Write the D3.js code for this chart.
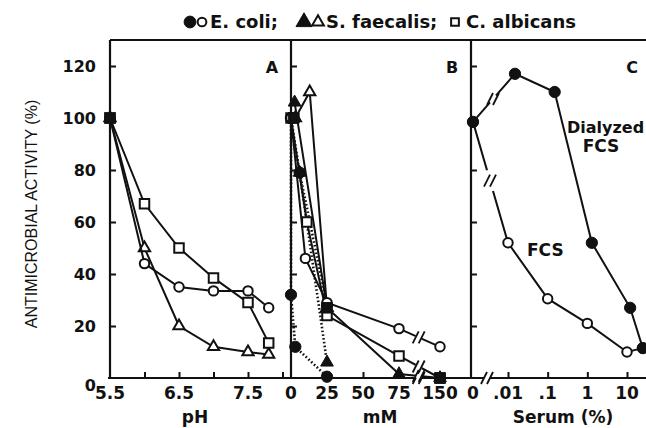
<!DOCTYPE html>
<html>
<head>
<meta charset="utf-8">
<script src="https://cdn.jsdelivr.net/npm/d3@7"></script>
<style>
  body { margin: 0; background: #fff; }
  svg { display: block; }
  text { font-family: "DejaVu Sans", sans-serif; font-weight: bold; fill: #111; }
</style>
</head>
<body>
<div id="wrapper"></div>
<script>
// ---- data ----
const yTicks = [0, 20, 40, 60, 80, 100, 120];

// panel A: pH
const phValues = [5.5, 6.0, 6.5, 7.0, 7.5, 7.8];
const phEcoli = [100, 44, 35, 33.5, 33.5, 27];
const phFaecalis = [100, 50, 20, 12, 10, 9];
const phAlbicans = [100, 67, 50, 38.5, 29, 13.5];
const phTickLabels = [5.5, 6.5, 7.5];
const phTickMarks = [6.0, 6.5, 7.0, 7.5, 8.0];

// panel B: mM
const mmTickLabels = [0, 25, 50, 75, 150];
const mmEcoliOpen = [0, 10, 25, 75, 150];
const actEcoliOpen = [100, 46, 29, 19, 12];
const mmAlbicans = [0, 11, 25, 75, 150];
const actAlbicans = [100, 60, 24, 8.5, 0];
const mmFaecalisOpen = [3, 13, 25];
const actFaecalisOpen = [100, 110, 27];
const mmFaecalisFilled = [2.5, 25, 75, 150];
const actFaecalisFilled = [106, 27, 1.5, 0];
const mmFaecalisDotted = [6, 25];
const actFaecalisDotted = [79, 6];
const mmEcoliDottedA = [0, 6, 25];
const actEcoliDottedA = [100, 79, 28];
const mmEcoliDottedB = [0, 0, 3, 25];
const actEcoliDottedB = [100, 32, 12, 0.5];
const mmSquareFilled = [2, 25, 150];
const actSquareFilled = [100, 27, 0];

// panel C: serum %
const serumTicks = [0, 0.01, 0.1, 1, 10];
const serumTickLabels = ["0", ".01", ".1", "1", "10"];
const serumDialyzed = [0, 0.015, 0.15, 1.3, 12, 25];
const actDialyzed = [98.5, 117, 110, 52, 27, 11.5];
const serumFcs = [0, 0.01, 0.1, 1, 10, 25];
const actFcs = [98.5, 52, 30.5, 21, 10, 11.5];

// ---- layout ----
const width = 646;
const height = 428;
const ink = "#111";

const svg = d3.select("#wrapper").append("svg")
  .attr("width", width).attr("height", height);

const yScale = d3.scaleLinear().domain([0, 130]).range([378, 40]);
const axisX = { a: 110, b: 291, c: 471, end: 646 };

const xA = d3.scaleLinear().domain([5.5, 7.5]).range([110, 248]);
const xB = d3.scaleLinear().domain([0, 75, 150]).range([291, 399, 440]);
const xCLog = d3.scaleLog().domain([0.01, 10]).range([508, 627]);
const xC = (v) => (v === 0 ? 473 : xCLog(v));

// ---- frame ----
const frame = svg.append("g").attr("stroke", ink).attr("stroke-width", 2.2).attr("fill", "none");
frame.append("line").attr("x1", axisX.a).attr("x2", axisX.end)
  .attr("y1", yScale(130)).attr("y2", yScale(130));
[axisX.a, axisX.b, axisX.c].forEach((x) => {
  frame.append("line").attr("x1", x).attr("x2", x)
    .attr("y1", yScale(130)).attr("y2", yScale(0));
});
const bottomBreaks = [xB(111), 487];
const bottomSegs = [[axisX.a - 2, bottomBreaks[0] - 3], [bottomBreaks[0] + 3, bottomBreaks[1] - 3], [bottomBreaks[1] + 3, axisX.end]];
bottomSegs.forEach(([a, b]) => {
  frame.append("line").attr("x1", a).attr("x2", b)
    .attr("y1", yScale(0)).attr("y2", yScale(0));
});

function slashes(g, x, y) {
  [-3, 3].forEach((dx) => {
    g.append("line")
      .attr("x1", x + dx - 3).attr("y1", y + 6)
      .attr("x2", x + dx + 3).attr("y2", y - 6)
      .attr("stroke", ink).attr("stroke-width", 1.8);
  });
}
bottomBreaks.forEach((bx) => slashes(svg, bx, yScale(0)));

// y ticks (inward) on every panel axis
[axisX.a, axisX.b, axisX.c].forEach((x) => {
  const ax = svg.append("g")
    .attr("transform", `translate(${x},0)`)
    .call(d3.axisRight(yScale).tickValues(yTicks.slice(1)).tickSize(6).tickFormat(""));
  ax.select(".domain").remove();
  ax.selectAll("line").attr("stroke", ink).attr("stroke-width", 2);
});

// y tick labels
const yAxis = svg.append("g")
  .attr("transform", `translate(${axisX.a},0)`)
  .call(d3.axisLeft(yScale).tickValues(yTicks).tickSize(0).tickPadding(14));
yAxis.select(".domain").remove();
yAxis.selectAll("text")
  .attr("font-size", 16).attr("font-family", "DejaVu Sans").attr("font-weight", "bold").attr("fill", ink)
  .filter((d) => d === 0).attr("dy", "0.75em");

// x axes: inward ticks and labels
function xTicks(scale, values) {
  const g = svg.append("g")
    .attr("transform", `translate(0,${yScale(0)})`)
    .call(d3.axisTop(scale).tickValues(values).tickSize(6).tickFormat(""));
  g.select(".domain").remove();
  g.selectAll("line").attr("stroke", ink).attr("stroke-width", 2);
}
xTicks(xA, phTickMarks);
xTicks(xB, [25, 50, 75]);
xTicks(xCLog, serumTicks.slice(1));

function xLabels(scale, values, fmt) {
  svg.append("g").selectAll("text").data(values).join("text")
    .attr("x", (d) => scale(d))
    .attr("y", yScale(0) + 21)
    .attr("text-anchor", "middle")
    .attr("font-size", 17)
    .text(fmt);
}
xLabels(xA, phTickLabels, d3.format(".1f"));
xLabels(xB, mmTickLabels, (d) => d);
xLabels(xC, serumTicks, (d, i) => serumTickLabels[i]);

// axis titles
const titleY = 423;
svg.append("text").attr("x", 195).attr("y", titleY).attr("text-anchor", "middle").attr("font-size", 17).text("pH");
svg.append("text").attr("x", 380).attr("y", titleY).attr("text-anchor", "middle").attr("font-size", 17).text("mM");
svg.append("text").attr("x", 563).attr("y", titleY).attr("text-anchor", "middle").attr("font-size", 17).text("Serum (%)");
svg.append("text")
  .attr("transform", "translate(37,214) rotate(-90)")
  .attr("text-anchor", "middle")
  .attr("font-size", 16)
  .style("font-weight", "normal")
  .style("font-family", "'Liberation Sans', sans-serif")
  .text("ANTIMICROBIAL ACTIVITY (%)");

// panel letters
[["A", 272], ["B", 452], ["C", 632]].forEach(([t, x]) => {
  svg.append("text").attr("x", x).attr("y", 73).attr("text-anchor", "middle").attr("font-size", 16).text(t);
});

// ---- series ----
const symbolTypes = { circle: d3.symbolCircle, square: d3.symbolSquare, triangle: d3.symbolTriangle };
const symbolSizes = {
  circle: { open: 70, filled: 100 },
  square: { open: 90, filled: 110 },
  triangle: { open: 55, filled: 70 },
};

function drawSeries(g, xs, ys, xScale, opt) {
  const pts = xs.map((v, i) => [xScale(v), yScale(ys[i])]);
  if (opt.line !== false) {
    g.append("path")
      .attr("d", d3.line()(pts))
      .attr("fill", "none")
      .attr("stroke", ink)
      .attr("stroke-width", opt.dotted ? 2.6 : 2)
      .attr("stroke-dasharray", opt.dotted ? "1.6,2.2" : null);
  }
  if (opt.breakAt) {
    for (let i = 1; i < pts.length; i++) {
      const [x0, y0] = pts[i - 1];
      const [x1, y1] = pts[i];
      if (x0 < opt.breakAt && x1 > opt.breakAt) {
        const t = (opt.breakAt - x0) / (x1 - x0);
        const by = y0 + t * (y1 - y0);
        g.append("line")
          .attr("x1", opt.breakAt - 3).attr("x2", opt.breakAt + 3)
          .attr("y1", by - 3 * (y1 - y0) / (x1 - x0)).attr("y2", by + 3 * (y1 - y0) / (x1 - x0))
          .attr("stroke", "#fff").attr("stroke-width", 4);
        slashes(g, opt.breakAt, by);
      }
    }
  }
  if (opt.marker) {
    const filled = !!opt.filled;
    g.selectAll(null).data(pts).join("path")
      .attr("transform", (d) => `translate(${d[0]},${d[1]})`)
      .attr("d", d3.symbol().type(symbolTypes[opt.marker]).size(symbolSizes[opt.marker][filled ? "filled" : "open"]))
      .attr("fill", filled ? ink : "#fff")
      .attr("stroke", ink)
      .attr("stroke-width", filled ? 1 : 2);
  }
}

const plot = svg.append("g");

// panel A
drawSeries(plot, phValues, phFaecalis, xA, { marker: "triangle" });
drawSeries(plot, phValues, phEcoli, xA, { marker: "circle" });
drawSeries(plot, phValues, phAlbicans, xA, { marker: "square" });
plot.append("path")
  .attr("transform", `translate(${xA(5.5)},${yScale(100)})`)
  .attr("d", d3.symbol().type(d3.symbolSquare).size(130)).attr("fill", ink);

// panel B
const breakB = xB(111);
drawSeries(plot, mmEcoliDottedB, actEcoliDottedB, xB, { dotted: true, marker: "circle", filled: true });
drawSeries(plot, mmEcoliDottedA, actEcoliDottedA, xB, { dotted: true, marker: "circle", filled: true });
drawSeries(plot, mmFaecalisDotted, actFaecalisDotted, xB, { dotted: true, marker: "triangle", filled: true });
drawSeries(plot, mmFaecalisFilled, actFaecalisFilled, xB, { marker: "triangle", filled: true, breakAt: breakB });
drawSeries(plot, mmFaecalisOpen, actFaecalisOpen, xB, { marker: "triangle" });
drawSeries(plot, mmAlbicans, actAlbicans, xB, { marker: "square", breakAt: breakB });
drawSeries(plot, mmEcoliOpen, actEcoliOpen, xB, { marker: "circle", breakAt: breakB });
drawSeries(plot, mmSquareFilled, actSquareFilled, xB, { line: false, marker: "square", filled: true });

// panel C
drawSeries(plot, serumFcs, actFcs, xC, { marker: "circle", breakAt: 490 });
drawSeries(plot, serumDialyzed, actDialyzed, xC, { marker: "circle", filled: true, breakAt: 493 });

svg.append("text").attr("x", 567).attr("y", 133).attr("font-size", 16).text("Dialyzed");
svg.append("text").attr("x", 601).attr("y", 152).attr("text-anchor", "middle").attr("font-size", 17).text("FCS");
svg.append("text").attr("x", 527).attr("y", 256).attr("font-size", 17).text("FCS");

// ---- legend ----
const legend = svg.append("g");
const legendY = 22;
const legendMarks = [
  { x: 190, shape: "circle", filled: true },
  { x: 202, shape: "circle", filled: false },
  { x: 304, shape: "triangle", filled: true },
  { x: 318, shape: "triangle", filled: false },
  { x: 455, shape: "square", filled: false },
];
legend.selectAll("path").data(legendMarks).join("path")
  .attr("transform", (d) => `translate(${d.x},${legendY})`)
  .attr("d", (d) => d3.symbol().type(symbolTypes[d.shape]).size(d.filled ? 110 : 60)())
  .attr("fill", (d) => (d.filled ? ink : "#fff"))
  .attr("stroke", ink)
  .attr("stroke-width", (d) => (d.filled ? 1 : 2));
const legendTexts = [
  { x: 210, t: "E. coli;" },
  { x: 326, t: "S. faecalis;" },
  { x: 466, t: "C. albicans" },
];
legend.selectAll("text").data(legendTexts).join("text")
  .attr("x", (d) => d.x).attr("y", legendY + 6)
  .attr("font-size", 18)
  .text((d) => d.t);
</script>
</body>
</html>
